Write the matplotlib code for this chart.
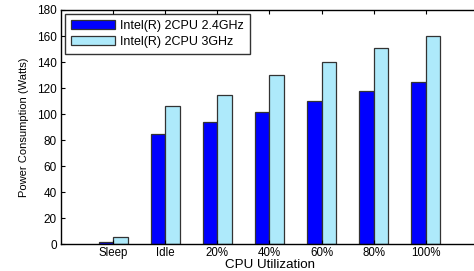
import numpy as np
import matplotlib
matplotlib.use('Agg')
import matplotlib.pyplot as plt

plt.rcParams['font.family'] = ['Liberation Sans', 'DejaVu Sans']

categories = ['Sleep', 'Idle', '20%', '40%', '60%', '80%', '100%']
cpu_24 = [2, 85, 94, 102, 110, 118, 125]
cpu_3 = [6, 106, 115, 130, 140, 151, 160]
series_names = ['Intel(R) 2CPU 2.4GHz', 'Intel(R) 2CPU 3GHz']

fig = plt.figure(figsize=(4.74, 2.71), dpi=100)
ax = fig.add_axes([0.1287, 0.0978, 0.8797, 0.8653])

x = np.arange(1, len(categories) + 1)
w = 0.28
ax.bar(x - w/2, cpu_24, w, color='#0000ff', edgecolor='#333333', linewidth=0.9, label=series_names[0])
ax.bar(x + w/2, cpu_3, w, color='#aeeafb', edgecolor='#333333', linewidth=0.9, label=series_names[1])

ax.set_xlim(0, 8)
ax.set_ylim(0, 180)
ax.set_xticks(x)
ax.set_xticklabels(categories, fontsize=8.3)
ax.set_yticks(np.arange(0, 181, 20))
ax.tick_params(axis='y', labelsize=8.5, pad=3)
ax.tick_params(axis='x', pad=1.5)
ax.tick_params(direction='in', length=3, width=0.8, top=True, right=True)
for s in ax.spines.values():
    s.set_linewidth(1.0)

# x label placed under the tick labels like the original
fig.text(0.5686, 0.021, 'CPU Utilization', fontsize=9.6, ha='center', va='center')
ax.set_ylabel('Power Consumption (Watts)', fontsize=8, labelpad=6)

leg = ax.legend(loc='upper left', fontsize=9, frameon=True, fancybox=False,
                edgecolor='black', handlelength=3.5, handleheight=0.65,
                borderaxespad=0.3, borderpad=0.5, labelspacing=0.3, handletextpad=0.45)
leg.get_frame().set_linewidth(1.0)

fig.savefig('out.png', dpi=100)
